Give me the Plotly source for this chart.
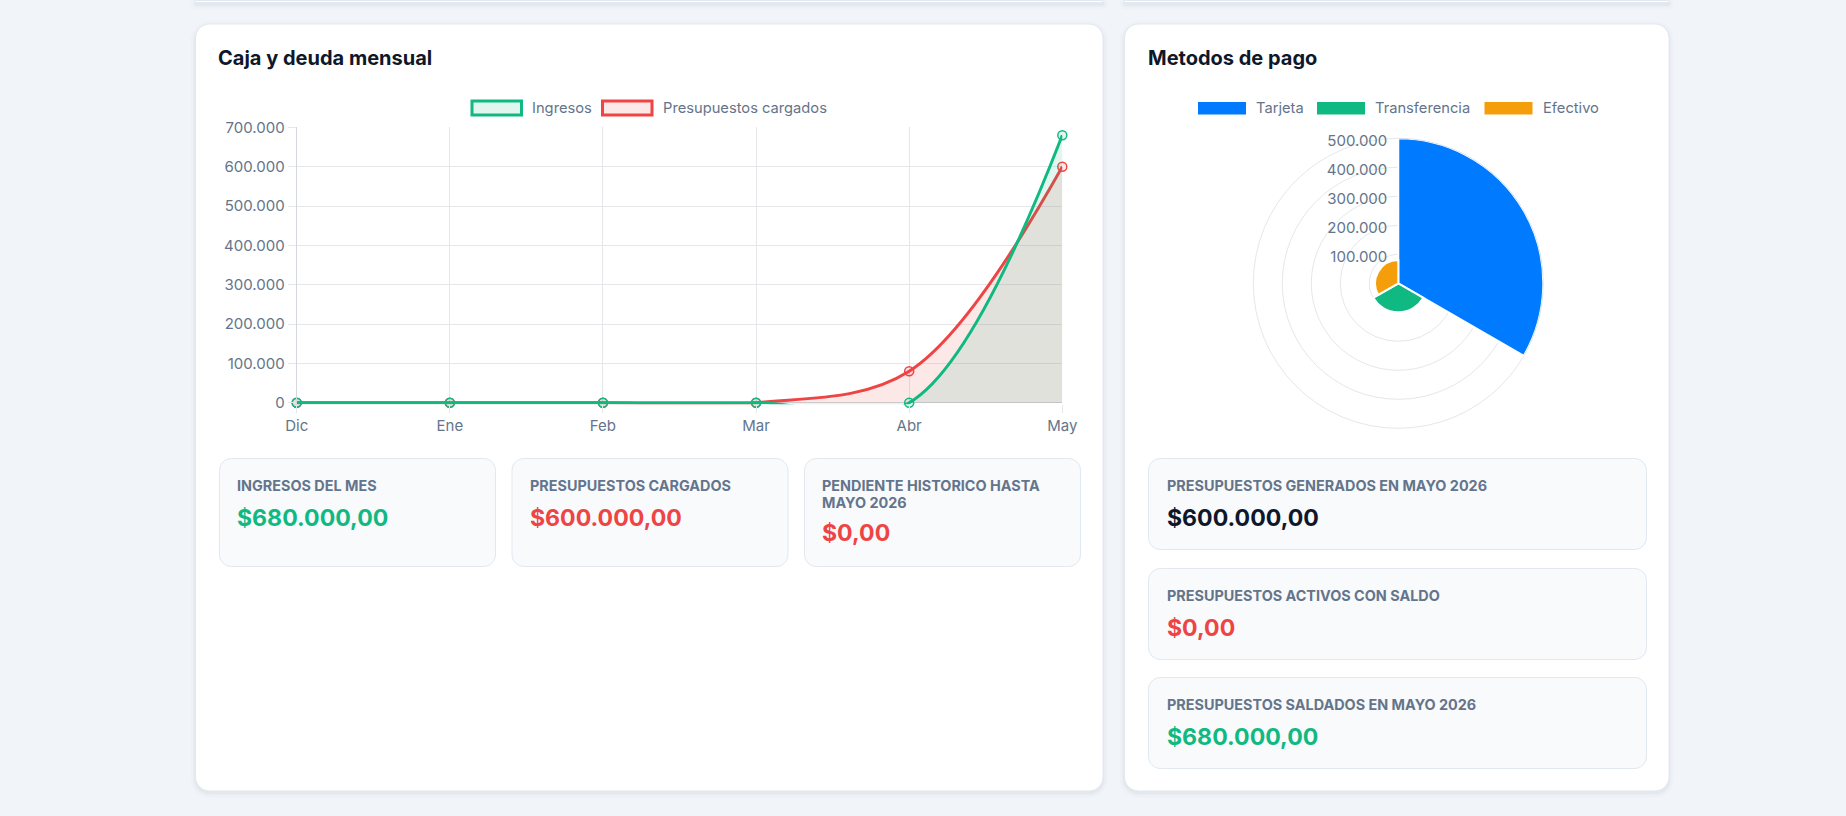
import plotly.graph_objects as go

# ---------------- data ----------------
months = ["Dic", "Ene", "Feb", "Mar", "Abr", "May"]
ingresos = [0, 0, 0, 0, 0, 680000]
presupuestos = [0, 0, 0, 0, 80000, 600000]

metodos = ["Tarjeta", "Transferencia", "Efectivo"]
metodos_valores = [500000, 100000, 80000]
metodos_theta = [60, 180, 300]
metodos_width = [120, 120, 120]

line_ticks = [0, 100000, 200000, 300000, 400000, 500000, 600000, 700000]
polar_ticks = [100000, 200000, 300000, 400000, 500000]

kpi_left_labels = [["INGRESOS DEL MES"], ["PRESUPUESTOS CARGADOS"], ["PENDIENTE HISTORICO HASTA", "MAYO 2026"]]
kpi_left_values = ["$680.000,00", "$600.000,00", "$0,00"]
kpi_right_labels = ["PRESUPUESTOS GENERADOS EN MAYO 2026", "PRESUPUESTOS ACTIVOS CON SALDO", "PRESUPUESTOS SALDADOS EN MAYO 2026"]
kpi_right_values = ["$600.000,00", "$0,00", "$680.000,00"]

# ---------------- style ----------------
W, H = 1846, 816
GREEN = "#10b981"
RED = "#ef4444"
BLUE = "#007bff"
ORANGE = "#f59e0b"
GREEN_FILL = "rgba(16,185,129,0.12)"
RED_FILL = "rgba(239,68,68,0.12)"
MUTED = "#64748b"
DARK = "#0f172a"
GRID = "#e5e7eb"
FONT = "Inter"


def X(x):
    return x / W


def Y(y):
    return 1 - y / H


def rrect(x0, y0, x1, y1, r):
    k = 0.552 * r
    p = (
        f"M {X(x0 + r)},{Y(y0)} L {X(x1 - r)},{Y(y0)} "
        f"C {X(x1 - r + k)},{Y(y0)} {X(x1)},{Y(y0 + r - k)} {X(x1)},{Y(y0 + r)} "
        f"L {X(x1)},{Y(y1 - r)} "
        f"C {X(x1)},{Y(y1 - r + k)} {X(x1 - r + k)},{Y(y1)} {X(x1 - r)},{Y(y1)} "
        f"L {X(x0 + r)},{Y(y1)} "
        f"C {X(x0 + r - k)},{Y(y1)} {X(x0)},{Y(y1 - r + k)} {X(x0)},{Y(y1 - r)} "
        f"L {X(x0)},{Y(y0 + r)} "
        f"C {X(x0)},{Y(y0 + r - k)} {X(x0 + r - k)},{Y(y0)} {X(x0 + r)},{Y(y0)} Z"
    )
    return p


shapes = []
annotations = []


def card(x0, y0, x1, y1, r, fill, line, shadow=False):
    if shadow:
        for d, a in [(5, 0.012), (2.5, 0.018), (1, 0.025)]:
            shapes.append(dict(type="path", xref="paper", yref="paper", layer="below",
                               path=rrect(x0 - d, y0 - d + 2, x1 + d, y1 + d + 2, r + d),
                               fillcolor=f"rgba(15,23,42,{a})", line=dict(width=0)))
    shapes.append(dict(type="path", xref="paper", yref="paper", layer="below",
                       path=rrect(x0, y0, x1, y1, r), fillcolor=fill,
                       line=dict(color=line, width=1)))


def text(x, y, s, size, color, bold=False, xanchor="left"):
    annotations.append(dict(xref="paper", yref="paper", x=X(x), y=Y(y), text=(f"<b>{s}</b>" if bold else s),
                            showarrow=False, xanchor=xanchor, yanchor="middle",
                            font=dict(family=FONT, size=size, color=color)))


# cards (top ones partially visible; clipped at the figure's top edge)
card(195.5, 0.5, 1103, 2.5, 1, "#ffffff", "#e2e8f0", shadow=True)
card(1124.5, 0.5, 1669, 2.5, 1, "#ffffff", "#e2e8f0", shadow=True)
card(195.5, 24, 1103, 791, 14, "#ffffff", "#e2e8f0", shadow=True)
card(1124.5, 24, 1669, 791, 14, "#ffffff", "#e2e8f0", shadow=True)

# titles
text(216, 58, "Caja y deuda mensual", 20, DARK, bold=True)
text(1145.5, 58, "Metodos de pago", 20, DARK, bold=True)

# line chart legend
shapes.append(dict(type="rect", xref="paper", yref="paper", x0=X(472), x1=X(521.5), y0=Y(101), y1=Y(115),
                   fillcolor=GREEN_FILL, line=dict(color=GREEN, width=3)))
text(529.5, 108.3, "Ingresos", 14.7, MUTED)
shapes.append(dict(type="rect", xref="paper", yref="paper", x0=X(602.5), x1=X(652), y0=Y(101), y1=Y(115),
                   fillcolor=RED_FILL, line=dict(color=RED, width=3)))
text(660.5, 108.3, "Presupuestos cargados", 14.7, MUTED)

# polar legend
for (bx, tx, col, lab) in [(1198, 1254, BLUE, metodos[0]), (1317, 1373, GREEN, metodos[1]),
                           (1484.5, 1541, ORANGE, metodos[2])]:
    shapes.append(dict(type="rect", xref="paper", yref="paper", x0=X(bx), x1=X(bx + 48), y0=Y(102), y1=Y(114.5),
                       fillcolor=col, line=dict(width=0)))
    text(tx, 108.3, lab, 14.7, MUTED)

# KPI mini cards - left
left_x = [(219.5, 495.5), (512, 788), (804.5, 1080.5)]
left_colors = [GREEN, RED, RED]
for i, (x0, x1) in enumerate(left_x):
    card(x0, 458.5, x1, 566.5, 12, "#f8fafc", "#e2e8f0")
    labs = kpi_left_labels[i]
    for j, l in enumerate(labs):
        text(x0 + 15.5, 485 + 17.3 * j, l, 14.4, MUTED, bold=True)
    vy = 518 if len(labs) == 1 else 532.5
    text(x0 + 15.5, vy, kpi_left_values[i], 23.1, left_colors[i], bold=True)

# KPI mini cards - right
right_y = [(458.5, 549.5), (568.5, 659.5), (677.5, 768.5)]
right_colors = [DARK, RED, GREEN]
for i, (y0, y1) in enumerate(right_y):
    card(1148.5, y0, 1646.5, y1, 12, "#f8fafc", "#e2e8f0")
    text(1164.5, y0 + 26.5, kpi_right_labels[i], 14.4, MUTED, bold=True)
    text(1164.5, y0 + 59, kpi_right_values[i], 23.1, right_colors[i], bold=True)

# ---------------- traces ----------------
fig = go.Figure()

fig.add_trace(go.Scatter(
    x=months, y=presupuestos, name="Presupuestos cargados", mode="lines+markers",
    line=dict(color=RED, width=3, shape="spline", smoothing=1.0),
    fill="tozeroy", fillcolor=RED_FILL,
    marker=dict(size=9, color=RED_FILL, line=dict(color=RED, width=1.5)),
    cliponaxis=False, showlegend=False, xaxis="x", yaxis="y"))

fig.add_trace(go.Scatter(
    x=months, y=ingresos, name="Ingresos", mode="lines+markers",
    line=dict(color=GREEN, width=3, shape="spline", smoothing=1.0),
    fill="tozeroy", fillcolor=GREEN_FILL,
    marker=dict(size=9, color=GREEN_FILL, line=dict(color=GREEN, width=1.5)),
    cliponaxis=False, showlegend=False, xaxis="x", yaxis="y"))

fig.add_trace(go.Barpolar(
    r=metodos_valores, theta=metodos_theta, width=metodos_width, text=metodos,
    marker=dict(color=[BLUE, GREEN, ORANGE], line=dict(color="#ffffff", width=2)),
    showlegend=False, subplot="polar"))

cx, cy, R = 1398.3, 283.3, 145
y0px, y700px = 402.7, 127.4
eps = 4000  # keep the zero-line stroke from being clipped
ybot = y0px + eps * (y0px - y700px) / 700000

fig.update_layout(
    width=W, height=H, autosize=False,
    margin=dict(l=0, r=0, t=0, b=0, pad=0, autoexpand=False),
    paper_bgcolor="#f1f5f9", plot_bgcolor="rgba(0,0,0,0)",
    separators=",.",
    font=dict(family=FONT, size=14, color=MUTED),
    shapes=shapes, annotations=annotations,
    xaxis=dict(domain=[X(296.7), X(1062.3)], type="category", range=[0, 5],
               showgrid=True, gridcolor=GRID, gridwidth=1,
               showline=False, automargin=False,
               ticks="outside", ticklen=8, tickcolor=GRID,
               tickfont=dict(family=FONT, size=15, color=MUTED),
               zeroline=False, fixedrange=True),
    yaxis=dict(domain=[Y(ybot), Y(y700px)], range=[-eps, 700000],
               tickvals=line_ticks, tickformat=",d", automargin=False,
               showgrid=True, gridcolor=GRID, gridwidth=1,
               showline=True, linecolor="#d4d7dc", linewidth=1,
               ticks="outside", ticklen=8, tickcolor=GRID,
               tickfont=dict(family=FONT, size=15, color=MUTED),
               zeroline=True, zerolinecolor="#d4d7dc", zerolinewidth=1,
               fixedrange=True),
    polar=dict(
        domain=dict(x=[X(cx - R), X(cx + R)], y=[Y(cy + R), Y(cy - R)]),
        bgcolor="rgba(0,0,0,0)",
        radialaxis=dict(range=[0, 500000], tickvals=polar_ticks, tickformat=",d",
                        angle=90, side="counterclockwise", showline=False, ticks="",
                        gridcolor=GRID, gridwidth=1, layer="below traces",
                        tickfont=dict(family=FONT, size=15, color=MUTED)),
        angularaxis=dict(rotation=90, direction="clockwise", showgrid=False,
                         showticklabels=False, ticks="", showline=True,
                         linecolor=GRID, linewidth=1, layer="below traces"),
        barmode="overlay",
    ),
)

fig.write_html(
    "out.html",
    config={"responsive": False, "displayModeBar": False},
    post_script="document.body.style.margin='0';document.body.style.overflow='hidden';"
                "document.documentElement.style.overflow='hidden';",
)
